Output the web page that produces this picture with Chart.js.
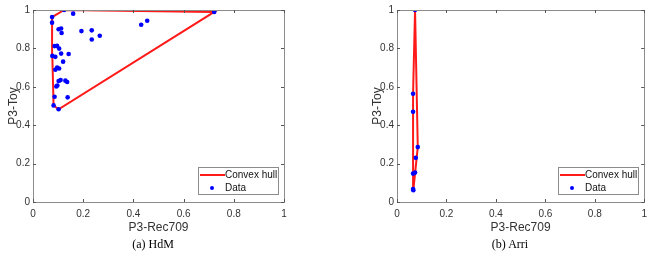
<!DOCTYPE html>
<html>
<head>
  <meta charset="UTF-8">
  <title>Convex hull P3-Rec709 / P3-Toy</title>
  <script src="https://cdn.jsdelivr.net/npm/chart.js"></script>
  <style>
    body { margin: 0; background: #fff; width: 653px; height: 254px; position: relative; overflow: hidden; }
    .box { position: absolute; top: 0; height: 240px; }
    .cap { position: absolute; top: 236px; width: 300px; text-align: center; font-family: "Liberation Serif", serif; font-size: 12px; font-weight: normal; color: #000; line-height: 16px; }
  </style>
</head>
<body>

<div class="box" style="left:0;width:300px"><canvas id="hdm"></canvas></div>
<div class="box" style="left:364px;width:289px"><canvas id="arri"></canvas></div>
<div class="cap" style="left:3px">(a) HdM</div>
<div class="cap" style="left:360px">(b) Arri</div>

<script>
  // valeurs
  var tickVals = [0, 0.2, 0.4, 0.6, 0.8, 1];

  var hdmX = [0.124, 0.160, 0.076, 0.076, 0.722, 0.431, 0.455, 0.102, 0.112, 0.114, 0.193, 0.234,
              0.234, 0.266, 0.086, 0.096, 0.104, 0.077, 0.089, 0.112, 0.142, 0.120, 0.089, 0.096,
              0.104, 0.110, 0.102, 0.097, 0.093, 0.129, 0.136, 0.086, 0.138, 0.082, 0.102];
  var hdmY = [1.000, 0.981, 0.963, 0.934, 0.990, 0.923, 0.944, 0.900, 0.904, 0.880, 0.890, 0.894,
              0.846, 0.866, 0.812, 0.813, 0.799, 0.761, 0.756, 0.773, 0.771, 0.731, 0.689, 0.700,
              0.695, 0.635, 0.630, 0.607, 0.602, 0.632, 0.625, 0.548, 0.545, 0.503, 0.483];
  var hdmHullX = [0.124, 0.722, 0.102, 0.082, 0.077, 0.076, 0.124];
  var hdmHullY = [1.000, 0.990, 0.483, 0.503, 0.761, 0.963, 1.000];

  var arriX = [0.073, 0.065, 0.065, 0.084, 0.076, 0.065, 0.073, 0.065, 0.066];
  var arriY = [1.000, 0.564, 0.470, 0.286, 0.230, 0.148, 0.153, 0.068, 0.061];
  var arriHullX = [0.073, 0.084, 0.066, 0.065, 0.065, 0.073];
  var arriHullY = [1.000, 0.286, 0.061, 0.068, 0.564, 1.000];

  function pts(xs, ys) {
    return xs.map(function(x, i) { return { x: x, y: ys[i] }; });
  }

  // cadre + graduations vers l'intérieur + légende (style matlab)
  var matlabBox = {
    id: 'matlabBox',
    afterDraw: function(chart) {
      var ctx = chart.ctx, a = chart.chartArea;
      var sx = chart.scales.x, sy = chart.scales.y;
      ctx.save();
      ctx.strokeStyle = '#8c8c8c';
      ctx.lineWidth = 1;
      ctx.strokeRect(Math.round(a.left) + 0.5, Math.round(a.top) + 0.5, Math.round(a.right - a.left), Math.round(a.bottom - a.top));
      ctx.strokeStyle = '#555';
      ctx.beginPath();
      tickVals.forEach(function(v) {
        var px = Math.round(sx.getPixelForValue(v)) + 0.5;
        ctx.moveTo(px, a.bottom); ctx.lineTo(px, a.bottom - 3);
        ctx.moveTo(px, a.top); ctx.lineTo(px, a.top + 3);
        var py = Math.round(sy.getPixelForValue(v)) + 0.5;
        ctx.moveTo(a.left, py); ctx.lineTo(a.left + 3, py);
        ctx.moveTo(a.right, py); ctx.lineTo(a.right - 3, py);
      });
      ctx.stroke();

      // légende
      var lx = Math.round(a.right) - 86, ly = Math.round(a.bottom) - 35;
      ctx.fillStyle = '#fff';
      ctx.fillRect(lx, ly, 80, 27);
      ctx.strokeStyle = '#8c8c8c';
      ctx.strokeRect(lx + 0.5, ly + 0.5, 80, 27);
      ctx.strokeStyle = '#ff1a1a';
      ctx.lineWidth = 2;
      ctx.beginPath();
      ctx.moveTo(lx + 2, ly + 8); ctx.lineTo(lx + 27, ly + 8);
      ctx.stroke();
      ctx.fillStyle = '#0000ff';
      ctx.beginPath();
      ctx.arc(lx + 14, ly + 21, 2, 0, Math.PI * 2);
      ctx.fill();
      ctx.fillStyle = '#111';
      ctx.font = '10px "Liberation Sans", Arial, sans-serif';
      ctx.textBaseline = 'middle';
      ctx.fillText('Convex hull', lx + 27, ly + 8);
      ctx.fillText('Data', lx + 27, ly + 21);
      ctx.restore();
    }
  };

  function makeChart(id, hullX, hullY, dataX, dataY, padRight) {
    var ctx = document.getElementById(id).getContext('2d');
    return new Chart(ctx, {
      type: 'scatter',
      data: {
        datasets: [{
          label: 'Convex hull',
          data: pts(hullX, hullY),
          showLine: true,
          borderColor: '#ff1a1a',
          borderWidth: 2,
          pointRadius: 0,
          fill: false,
          order: 2
        }, {
          label: 'Data',
          data: pts(dataX, dataY),
          backgroundColor: '#0000ff',
          borderColor: '#0000ff',
          pointRadius: 2.3,
          borderWidth: 0,
          order: 1
        }]
      },
      options: {
        responsive: false,
        animation: false,
        layout: { padding: { top: 10, right: padRight, left: 0, bottom: 0 } },
        plugins: { legend: { display: false }, tooltip: { enabled: false } },
        scales: {
          x: {
            type: 'linear', min: 0, max: 1,
            afterBuildTicks: function(s) { s.ticks = tickVals.map(function(v) { return { value: v }; }); },
            afterFit: function(s) { s.height = 38; },
            grid: { display: false, drawTicks: false, tickLength: 0 },
            border: { display: false },
            ticks: { color: '#333', font: { family: 'Liberation Sans', size: 10 }, padding: 6, maxRotation: 0,
                     callback: function(v) { return String(v); } },
            title: { display: true, text: 'P3-Rec709', color: '#333', font: { family: 'Liberation Sans', size: 12 },
                     padding: { top: 0, bottom: 5 } }
          },
          y: {
            type: 'linear', min: 0, max: 1,
            afterBuildTicks: function(s) { s.ticks = tickVals.map(function(v) { return { value: v }; }); },
            afterFit: function(s) { s.width = 33; },
            grid: { display: false, drawTicks: false, tickLength: 0 },
            border: { display: false },
            ticks: { color: '#333', font: { family: 'Liberation Sans', size: 10 }, padding: 3,
                     callback: function(v) { return String(v); } },
            title: { display: true, text: 'P3-Toy', color: '#333', font: { family: 'Liberation Sans', size: 12 },
                     padding: { top: 6, bottom: 0 } }
          }
        }
      },
      plugins: [matlabBox]
    });
  }

  var c1 = document.getElementById('hdm');
  c1.width = 300; c1.height = 240;
  var c2 = document.getElementById('arri');
  c2.width = 289; c2.height = 240;

  makeChart('hdm', hdmHullX, hdmHullY, hdmX, hdmY, 16);
  makeChart('arri', arriHullX, arriHullY, arriX, arriY, 5);
</script>
</body>
</html>
